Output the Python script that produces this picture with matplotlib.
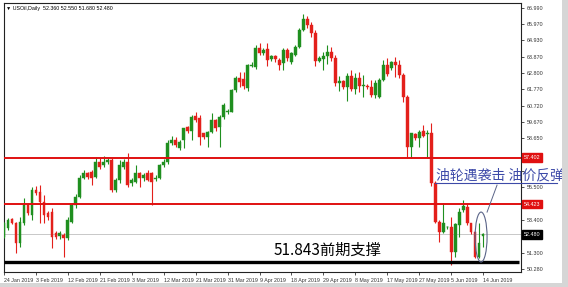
import matplotlib
matplotlib.use("Agg")
import matplotlib.pyplot as plt
from matplotlib.patches import Ellipse, Rectangle

# daily OHLC of USOil (one bar per trading day incl. Sunday bars)
opens = [52.33, 52.87, 53.44, 53.19, 51.91, 53.19, 54.36, 53.72, 55.33, 55.22,
         54.58, 53.83, 53.94, 52.55, 52.40, 52.44, 52.23, 53.30, 54.36, 54.90,
         56.07, 56.39, 56.50, 56.18, 57.14, 56.93, 57.10, 57.25, 55.33, 55.97,
         56.82, 57.14, 55.75, 55.85, 56.39, 56.07, 56.39, 56.39, 56.00, 56.07,
         56.93, 57.14, 58.32, 58.50, 58.00, 58.53, 59.34, 59.13, 60.07, 59.92,
         58.95, 58.74, 59.06, 59.81, 59.38, 60.03, 60.30, 60.35, 61.74, 62.48,
         62.42, 61.84, 63.30, 63.23, 64.41, 64.10, 64.35, 63.70, 63.90, 63.66,
         63.45, 64.30, 63.55, 64.00, 64.50, 65.60, 66.30, 65.90, 65.40, 63.60,
         63.70, 63.90, 64.20, 63.80, 62.20, 62.30, 61.90, 62.60, 61.80, 62.50,
         62.00, 62.00, 61.90, 61.40, 61.30, 62.37, 63.33, 63.12, 63.55, 63.33,
         62.69, 61.30, 58.10, 58.90, 58.63, 59.10, 58.90, 58.95, 55.75, 53.30,
         52.65, 52.93, 52.93, 51.37, 53.08, 54.04, 54.25, 53.19, 52.65, 51.05,
         52.36]
highs = [53.30, 53.51, 53.55, 53.30, 53.62, 54.79, 54.50, 55.54, 55.60, 55.65,
         55.00, 54.00, 54.15, 52.70, 52.70, 52.60, 53.60, 54.50, 55.10, 56.30,
         56.60, 56.50, 56.60, 57.46, 57.40, 57.50, 57.35, 57.35, 56.10, 57.25,
         57.30, 57.72, 56.10, 56.93, 56.50, 56.40, 56.60, 56.50, 56.30, 57.00,
         57.30, 58.53, 58.80, 58.70, 58.50, 59.30, 59.40, 60.10, 60.30, 60.10,
         59.00, 59.10, 60.28, 59.90, 60.10, 60.90, 60.50, 61.80, 62.60, 62.90,
         62.90, 63.40, 63.50, 64.60, 64.73, 64.40, 64.73, 64.00, 64.00, 63.80,
         64.40, 64.40, 64.20, 64.60, 65.70, 66.60, 66.50, 66.10, 65.60, 63.90,
         64.20, 64.60, 64.50, 64.00, 62.60, 62.40, 62.80, 63.00, 62.80, 62.90,
         62.70, 62.10, 62.40, 62.40, 62.50, 63.65, 63.76, 63.60, 63.87, 63.65,
         62.80, 61.40, 59.00, 59.00, 59.20, 59.50, 59.20, 59.60, 55.90, 53.40,
         54.47, 53.00, 53.61, 53.20, 54.15, 54.68, 54.47, 53.20, 52.70, 53.19,
         52.55]
lows = [52.23, 52.76, 53.12, 51.27, 51.69, 53.10, 53.70, 53.40, 55.00, 53.19,
        53.19, 53.40, 51.58, 52.20, 52.20, 51.05, 52.10, 53.20, 54.20, 54.80,
        56.00, 56.00, 55.65, 56.10, 56.70, 56.80, 57.00, 55.20, 55.20, 55.75,
        56.70, 55.54, 55.60, 55.75, 55.54, 55.90, 55.90, 54.36, 55.90, 56.00,
        56.80, 57.00, 58.20, 58.10, 57.90, 57.99, 59.00, 58.50, 59.70, 58.20,
        58.60, 58.10, 58.95, 59.10, 58.10, 59.90, 60.20, 60.30, 61.60, 61.95,
        61.80, 61.70, 63.20, 63.10, 63.98, 64.00, 63.30, 63.60, 63.50, 63.00,
        63.00, 63.60, 63.40, 63.90, 64.40, 65.50, 65.70, 65.10, 63.30, 63.50,
        63.00, 63.40, 63.60, 62.00, 61.70, 61.80, 61.00, 61.70, 61.50, 61.60,
        61.30, 61.80, 61.30, 61.20, 61.20, 62.30, 62.60, 63.00, 62.59, 62.50,
        60.98, 57.40, 57.35, 58.50, 58.10, 58.70, 57.35, 55.60, 53.20, 52.00,
        52.60, 52.80, 50.52, 51.05, 52.33, 53.90, 53.10, 52.50, 50.94, 50.94,
        51.68]
closes = [53.19, 53.40, 53.19, 51.91, 53.30, 54.36, 53.83, 55.33, 55.15, 54.58,
          53.72, 53.62, 52.33, 52.33, 52.55, 52.23, 53.40, 54.36, 54.90, 56.07,
          56.39, 56.18, 56.07, 57.14, 56.82, 57.14, 57.25, 55.33, 55.97, 56.93,
          57.14, 55.65, 55.97, 56.39, 56.07, 56.28, 55.97, 55.85, 56.10, 56.93,
          57.14, 58.32, 58.53, 58.20, 58.42, 59.28, 59.13, 60.03, 59.81, 58.74,
          58.74, 59.06, 59.81, 59.28, 60.03, 60.77, 60.40, 61.74, 62.48, 62.27,
          62.00, 63.34, 63.34, 64.41, 64.10, 64.30, 63.66, 63.90, 63.70, 63.34,
          64.30, 63.77, 64.10, 64.50, 65.60, 66.30, 65.90, 65.40, 63.60, 63.80,
          63.90, 64.20, 63.80, 62.20, 62.30, 61.90, 62.60, 61.80, 62.50, 62.00,
          62.05, 61.90, 61.40, 62.20, 62.37, 63.33, 62.76, 63.55, 63.33, 62.69,
          61.30, 58.10, 58.95, 58.63, 59.06, 58.78, 59.00, 55.75, 53.29, 52.65,
          53.18, 52.95, 51.37, 53.14, 53.93, 54.30, 53.19, 52.65, 51.05, 51.90,
          52.48]

date_labels = ["24 Jan 2019", "3 Feb 2019", "12 Feb 2019", "21 Feb 2019", "3 Mar 2019",
               "12 Mar 2019", "21 Mar 2019", "31 Mar 2019", "9 Apr 2019", "18 Apr 2019",
               "29 Apr 2019", "8 May 2019", "17 May 2019", "27 May 2019", "5 Jun 2019",
               "14 Jun 2019"]
# price scale; empty entries are grid levels whose label sits under a price box
price_ticks = [66.990, 65.970, 64.930, 63.870, 62.800, 61.770, 60.720, 59.670, 58.650,
               57.600, 56.550, 55.500, 54.450, 53.400, 52.350, 51.300, 50.280]
price_labels = ["66.990", "65.970", "64.930", "63.870", "62.800", "61.770", "60.720",
                "59.670", "58.650", "", "", "55.500", "", "53.400", "", "51.300", "50.280"]

resistance_levels = [57.402, 54.423]
support_line = 50.71
support_text = "51.843前期支撑"
last_price = 52.480
header = "\u25bc USOil,Daily  52.360 52.550 51.680 52.480"
news_text = "油轮遇袭击 油价反弹"

up_col = "#1f8f1f"
down_col = "#e3201b"
cjk = ["Noto Sans CJK SC", "DejaVu Sans"]
small = "Liberation Sans"

fig = plt.figure(figsize=(5.68, 2.87), dpi=100)
ax = fig.add_axes([4 / 568, 1 - 272 / 287, 517 / 568, 269 / 287])

n = len(opens)
for i in range(n):
    o, h, l, c = opens[i], highs[i], lows[i], closes[i]
    col = up_col if c >= o else down_col
    ax.vlines(i, l, h, color=col, lw=0.8, zorder=3)
    body = max(abs(c - o), 0.05)
    ax.bar(i, body, bottom=min(o, c), width=0.7, color=col, edgecolor=col, lw=0.3, zorder=4)

# horizontal levels
ax.axhline(last_price, color="#c8c8c8", lw=0.7, zorder=1)
for lv in resistance_levels:
    ax.axhline(lv, color="#e01010", lw=1.4, zorder=5)
ax.plot([0, 129], [support_line, support_line], color="black", lw=2.4,
        solid_capstyle="butt", zorder=6)

ax.set_xlim(0.25, 129.5)
ax.set_ylim(50.07, 67.31)

# right price scale
ax.yaxis.tick_right()
ax.set_yticks(price_ticks)
ax.set_yticklabels(price_labels, family=small)
ax.tick_params(axis="y", labelsize=3.9, length=2.5, width=0.6, pad=1.5, colors="#333333")

ax.set_xticks(list(range(0, 8 * len(date_labels), 8)))
ax.set_xticklabels(date_labels, family=small)
ax.tick_params(axis="x", labelsize=3.8, length=2.5, width=0.6, pad=1.5, colors="#333333")
for lab in ax.get_xticklabels():
    lab.set_horizontalalignment("left")
for sp in ax.spines.values():
    sp.set_linewidth(0.8)
    sp.set_color("#222222")

# price boxes on the scale
ytr = ax.get_yaxis_transform()
for lv in resistance_levels:
    ax.text(1.006, lv, f"{lv:.3f}", transform=ytr, fontsize=3.9, family=small, color="white",
            va="center", ha="left", zorder=10, clip_on=False,
            bbox=dict(boxstyle="square,pad=0.3", fc="#e01010", ec="#e01010"))
ax.text(1.006, last_price, f"{last_price:.3f}", transform=ytr, fontsize=3.9, family=small,
        color="white", va="center", ha="left", zorder=10, clip_on=False,
        bbox=dict(boxstyle="square,pad=0.3", fc="black", ec="black"))

# header
ax.text(0.004, 0.988, header, transform=ax.transAxes, fontsize=3.8, family=small,
        va="top", ha="left")

# annotations
ax.text(81, 51.48, support_text, fontsize=11, family=cjk, ha="center", va="center", zorder=7)
ax.text(108.2, 56.25, news_text, fontsize=10, family=cjk, color="#3d4aa8",
        ha="left", va="center", zorder=7, clip_on=False)
ax.plot([108, 138.5], [55.78, 55.78], color="#3d4aa8", lw=0.8, clip_on=False, zorder=7)
ax.add_patch(Ellipse((119.5, 52.31), 3.0, 3.2, fill=False, ec="#5a6488", lw=0.8, zorder=8))
ax.plot([121, 123.5], [53.91, 55.64], color="#5a6488", lw=0.7, zorder=8)

# window chrome strips
fig.patches.append(Rectangle((0, 0), 1, 4 / 287, transform=fig.transFigure,
                             fc="#d6d6d6", ec="none"))
fig.patches.append(Rectangle((562 / 568, 0), 6 / 568, 1, transform=fig.transFigure,
                             fc="#d6d6d6", ec="none"))

fig.savefig("out.png", dpi=100)
